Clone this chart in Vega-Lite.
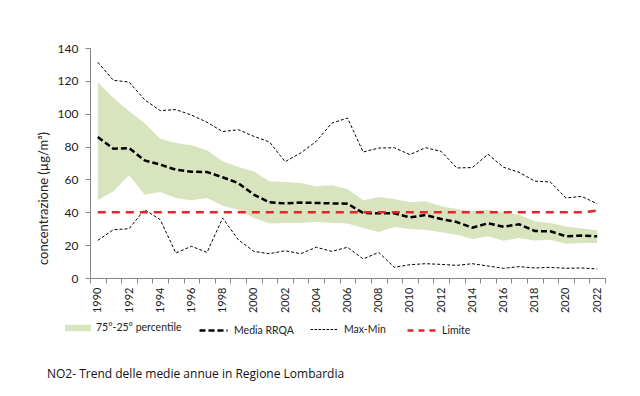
{
  "$schema": "https://vega.github.io/schema/vega-lite/v6.json",
  "autosize": {"type": "none"},
  "width": 515,
  "height": 230,
  "padding": {"left": 90, "top": 48, "right": 35, "bottom": 118},
  "background": "white",
  "config": {
    "view": {"stroke": null},
    "font": "Lato",
    "axis": {"domainColor": "#868686", "tickColor": "#868686", "labelColor": "#222", "titleColor": "#222", "grid": false, "labelFont": "Lato", "titleFont": "Lato"},
    "legend": {
      "title": null,
      "orient": "none",
      "direction": "horizontal",
      "legendY": 267,
      "labelFont": "Lato",
      "labelFontSize": 10.5,
      "labelColor": "#222",
      "labelOffset": 5
    }
  },
  "title": {
    "text": "NO2- Trend delle medie annue in Regione Lombardia",
    "orient": "bottom",
    "anchor": "start",
    "frame": "group",
    "font": "Open Sans",
    "fontSize": 12,
    "fontWeight": "normal",
    "color": "#111",
    "dx": -43,
    "offset": 33
  },
  "data": {
    "values": [
      {"year": "1990", "max": 131.3, "min": 22.9, "p75": 119.1, "p25": 47.3, "media": 85.8, "limite": 40},
      {"year": "1991", "max": 120.3, "min": 29.4, "p75": 109.6, "p25": 52.8, "media": 78.7, "limite": 40},
      {"year": "1992", "max": 119.3, "min": 30.0, "p75": 101.5, "p25": 62.5, "media": 79.1, "limite": 40},
      {"year": "1993", "max": 108.5, "min": 41.6, "p75": 94.3, "p25": 50.9, "media": 71.6, "limite": 40},
      {"year": "1994", "max": 101.9, "min": 35.5, "p75": 84.8, "p25": 52.3, "media": 69.0, "limite": 40},
      {"year": "1995", "max": 102.5, "min": 15.2, "p75": 82.2, "p25": 48.7, "media": 65.9, "limite": 40},
      {"year": "1996", "max": 99.2, "min": 19.3, "p75": 80.8, "p25": 47.3, "media": 64.7, "limite": 40},
      {"year": "1997", "max": 94.8, "min": 15.6, "p75": 77.7, "p25": 48.7, "media": 64.5, "limite": 40},
      {"year": "1998", "max": 89.1, "min": 36.5, "p75": 71.0, "p25": 44.0, "media": 61.3, "limite": 40},
      {"year": "1999", "max": 90.3, "min": 23.3, "p75": 67.6, "p25": 41.6, "media": 57.8, "limite": 40},
      {"year": "2000", "max": 86.2, "min": 16.2, "p75": 64.9, "p25": 36.5, "media": 50.7, "limite": 40},
      {"year": "2001", "max": 82.8, "min": 14.8, "p75": 58.8, "p25": 33.1, "media": 46.1, "limite": 40},
      {"year": "2002", "max": 70.8, "min": 16.6, "p75": 58.4, "p25": 33.5, "media": 45.4, "limite": 40},
      {"year": "2003", "max": 76.1, "min": 14.8, "p75": 57.8, "p25": 33.5, "media": 45.9, "limite": 40},
      {"year": "2004", "max": 83.2, "min": 18.7, "p75": 55.8, "p25": 34.3, "media": 45.7, "limite": 40},
      {"year": "2005", "max": 94.3, "min": 16.2, "p75": 56.4, "p25": 33.5, "media": 45.4, "limite": 40},
      {"year": "2006", "max": 97.4, "min": 18.7, "p75": 54.2, "p25": 33.1, "media": 45.2, "limite": 40},
      {"year": "2007", "max": 76.7, "min": 11.6, "p75": 47.3, "p25": 30.4, "media": 39.6, "limite": 40},
      {"year": "2008", "max": 79.1, "min": 15.6, "p75": 49.3, "p25": 28.0, "media": 39.4, "limite": 40},
      {"year": "2009", "max": 79.3, "min": 6.5, "p75": 48.1, "p25": 31.0, "media": 39.4, "limite": 40},
      {"year": "2010", "max": 75.1, "min": 8.1, "p75": 46.1, "p25": 29.8, "media": 36.9, "limite": 40},
      {"year": "2011", "max": 79.3, "min": 8.7, "p75": 46.7, "p25": 29.4, "media": 38.3, "limite": 40},
      {"year": "2012", "max": 77.1, "min": 8.3, "p75": 43.6, "p25": 27.8, "media": 35.9, "limite": 40},
      {"year": "2013", "max": 67.0, "min": 7.7, "p75": 42.0, "p25": 26.4, "media": 34.1, "limite": 40},
      {"year": "2014", "max": 67.2, "min": 8.7, "p75": 40.6, "p25": 23.7, "media": 30.6, "limite": 40},
      {"year": "2015", "max": 75.3, "min": 7.3, "p75": 41.6, "p25": 25.4, "media": 33.3, "limite": 40},
      {"year": "2016", "max": 67.4, "min": 5.9, "p75": 40.0, "p25": 22.7, "media": 31.2, "limite": 40},
      {"year": "2017", "max": 64.3, "min": 6.9, "p75": 38.5, "p25": 24.3, "media": 32.7, "limite": 40},
      {"year": "2018", "max": 59.0, "min": 6.1, "p75": 34.5, "p25": 22.9, "media": 28.6, "limite": 40},
      {"year": "2019", "max": 58.4, "min": 6.5, "p75": 33.5, "p25": 23.3, "media": 28.4, "limite": 40},
      {"year": "2020", "max": 48.7, "min": 5.9, "p75": 31.4, "p25": 20.9, "media": 25.4, "limite": 40},
      {"year": "2021", "max": 49.7, "min": 6.1, "p75": 30.2, "p25": 21.3, "media": 25.8, "limite": 40},
      {"year": "2022", "max": 45.2, "min": 5.5, "p75": 29.0, "p25": 21.3, "media": 25.4, "limite": 41}
    ]
  },
  "encoding": {
    "x": {
      "field": "year",
      "type": "ordinal",
      "bandPosition": 0.5,
      "scale": {"type": "band", "paddingInner": 0, "paddingOuter": 0},
      "axis": {
        "title": null,
        "tickBand": "extent",
        "labelAngle": 270,
        "labelFontSize": 11,
        "labelPadding": 4,
        "tickSize": 5,
        "labelExpr": "toNumber(datum.value) % 2 == 0 ? datum.label : ''"
      }
    },
    "y": {
      "type": "quantitative",
      "scale": {"domain": [0, 140], "nice": false},
      "axis": {
        "title": "concentrazione (µg/m³)",
        "titleFontSize": 13,
        "titleFontWeight": "normal",
        "titlePadding": 7,
        "titleY": 150,
        "values": [0, 20, 40, 60, 80, 100, 120, 140],
        "labelOverlap": false,
        "labelFontSize": 12,
        "labelPadding": 7,
        "tickSize": 5
      }
    }
  },
  "layer": [
    {
      "mark": {"type": "area", "opacity": 1},
      "encoding": {
        "y": {
          "field": "p25",
          "type": "quantitative",
          "scale": {"domain": [0, 140], "nice": false},
          "axis": {
            "title": "concentrazione (µg/m³)",
            "titleFontSize": 13,
            "titleFontWeight": "normal",
            "titlePadding": 7,
            "titleY": 150,
            "values": [0, 20, 40, 60, 80, 100, 120, 140],
            "labelOverlap": false,
            "labelFontSize": 12,
            "labelPadding": 7,
            "tickSize": 5
          }
        },
        "y2": {"field": "p75"},
        "fill": {
          "datum": "75°-25° percentile",
          "type": "nominal",
          "scale": {"domain": ["75°-25° percentile"], "range": ["#d7e4bd"]},
          "legend": {
            "legendX": -25,
            "symbolType": "M-1,-0.25H1V0.25H-1Z",
            "symbolSize": 676,
            "symbolOpacity": 1,
            "symbolStrokeWidth": 0
          }
        }
      }
    },
    {
      "transform": [{"fold": ["max", "min"], "as": ["serie", "valore"]}],
      "mark": {"type": "line", "color": "#000000", "strokeWidth": 1, "strokeDash": [3, 2]},
      "encoding": {
        "y": {"field": "valore", "type": "quantitative"},
        "detail": {"field": "serie"},
        "opacity": {
          "datum": "Max-Min",
          "type": "nominal",
          "scale": {"domain": ["Max-Min"], "range": [1]},
          "legend": {"legendX": 220, "symbolType": "stroke", "symbolSize": 784, "symbolStrokeColor": "#000000", "symbolStrokeWidth": 1, "symbolDash": [2.5, 1.5]}
        }
      }
    },
    {
      "mark": {"type": "line", "color": "#000000", "strokeWidth": 2.5},
      "encoding": {
        "y": {"field": "media", "type": "quantitative"},
        "strokeDash": {
          "datum": "Media RRQA",
          "type": "nominal",
          "scale": {"domain": ["Media RRQA"], "range": [[6, 3]]},
          "legend": {"legendX": 108, "symbolType": "stroke", "symbolSize": 784, "symbolStrokeColor": "#000000", "symbolStrokeWidth": 2.5}
        }
      }
    },
    {
      "mark": {"type": "line", "strokeWidth": 2.5, "strokeDash": [8, 6]},
      "encoding": {
        "y": {"field": "limite", "type": "quantitative"},
        "stroke": {
          "datum": "Limite",
          "type": "nominal",
          "scale": {"domain": ["Limite"], "range": ["#e3262b"]},
          "legend": {"legendX": 316, "symbolType": "stroke", "symbolSize": 784, "symbolStrokeWidth": 2.5, "symbolDash": [6, 5]}
        }
      }
    }
  ]
}
